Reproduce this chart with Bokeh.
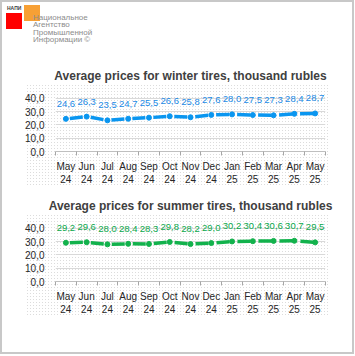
from bokeh.plotting import figure
from bokeh.layouts import column
from bokeh.models import (ColumnDataSource, LabelSet, Range1d, Div,
                          CustomJSTickFormatter, FixedTicker)
from bokeh.core.properties import value
from bokeh.embed import file_html
from bokeh.resources import INLINE

# ---- data ----
months = ["May", "Jun", "Jul", "Aug", "Sep", "Oct", "Nov", "Dec", "Jan", "Feb", "Mar", "Apr", "May"]
years = ["24", "24", "24", "24", "24", "24", "24", "24", "25", "25", "25", "25", "25"]
winter = [24.6, 26.3, 23.5, 24.7, 25.5, 26.6, 25.8, 27.6, 28.0, 27.5, 27.3, 28.4, 28.7]
summer = [29.2, 29.6, 28.0, 28.4, 28.3, 29.8, 28.2, 29.0, 30.2, 30.4, 30.6, 30.7, 29.5]
y_ticks = [0, 10, 20, 30, 40]
title_winter = "Average prices for winter tires, thousand rubles"
title_summer = "Average prices for summer tires, thousand rubles"
logo_short = "НАПИ"
logo_lines = ["Национальное", "Агентство", "Промышленной", "Информации ©"]

FONT = "Liberation Sans"
W = 350
N = len(months)
idx = list(range(N))
tick_labels = {i: f"{m}\n{y}" for i, m, y in zip(idx, months, years)}


def dotted_area(top, bottom, left=23, right=328):
    return {
        "background-color": "#ffffff",
        "background-image": (
            f"linear-gradient(to right, #fff {left}px, transparent {left}px, "
            f"transparent {right}px, #fff {right}px), "
            f"linear-gradient(to bottom, #fff {top}px, transparent {top}px, "
            f"transparent {bottom}px, #fff {bottom}px), "
            "radial-gradient(circle, #dcdcdc 0.6px, transparent 1.0px)"),
        "background-size": "100% 100%, 100% 100%, 3px 3px",
        "background-repeat": "no-repeat, no-repeat, repeat",
    }


def make_chart(title, values, line_color, label_color, height, top, bottom, bg, standoff):
    p = figure(width=W, height=height, output_backend="svg", toolbar_location=None,
               x_range=Range1d(-0.5, N - 0.5), y_range=Range1d(0, 47.5),
               min_border_left=53, min_border_right=27, min_border_top=top,
               min_border_bottom=bottom, styles=bg)
    p.title.text = title
    p.title.align = "center"
    p.title.text_font = FONT
    p.title.text_font_size = "12px"
    p.title.text_font_style = "bold"
    p.title.text_color = "#404040"
    p.title.standoff = standoff
    p.outline_line_color = None
    p.border_fill_color = None
    p.background_fill_color = None

    src = ColumnDataSource(dict(x=idx, y=values,
                                lab=[f"{v:.1f}".replace(".", ",") for v in values]))
    p.line("x", "y", source=src, line_color=line_color, line_width=3.5,
           line_dash="13 8", line_dash_offset=17)
    p.scatter("x", "y", source=src, size=5, fill_color=line_color, line_color=line_color)
    p.add_layout(LabelSet(x="x", y="y", text="lab", source=src, y_offset=15,
                          text_align="center", text_baseline="middle",
                          text_font=value(FONT), text_font_size="9.5px",
                          text_color=label_color))

    p.xgrid.visible = False
    p.ygrid.grid_line_color = "#d9d9d9"
    p.ygrid.ticker = FixedTicker(ticks=y_ticks)

    xa = p.xaxis[0]
    xa.ticker = FixedTicker(ticks=idx, minor_ticks=[i - 0.5 for i in idx] + [N - 0.5])
    xa.major_label_overrides = tick_labels
    xa.major_tick_out = 0
    xa.major_tick_in = 0
    xa.minor_tick_out = 4
    xa.minor_tick_in = 0
    xa.minor_tick_line_color = "#a6a6a6"
    xa.axis_line_color = "#bfbfbf"
    xa.major_label_standoff = 5
    xa.major_label_text_font = FONT
    xa.major_label_text_font_size = "10px"
    xa.major_label_text_color = "#262626"

    ya = p.yaxis[0]
    ya.ticker = FixedTicker(ticks=y_ticks)
    ya.formatter = CustomJSTickFormatter(code="return tick.toFixed(1).replace('.', ',');")
    ya.axis_line_color = None
    ya.major_tick_line_color = None
    ya.minor_tick_line_color = None
    ya.major_label_standoff = 5
    ya.major_label_text_font = FONT
    ya.major_label_text_font_size = "10px"
    ya.major_label_text_color = "#262626"
    return p


# ---- header with the agency logo ----
logo_html = (
    f'<div style="position:relative;width:{W}px;height:55px;font-family:\'{FONT}\';">'
    '<div style="position:absolute;left:4px;top:11px;width:16px;height:16px;background:#ff0000;"></div>'
    '<div style="position:absolute;left:22px;top:3px;width:16px;height:16px;background:#f7a035;"></div>'
    f'<div style="position:absolute;left:5px;top:4px;font-size:5px;line-height:5px;font-weight:bold;color:#404040;">{logo_short}</div>'
    '<div style="position:absolute;left:31px;top:11.5px;font-size:8px;line-height:7.5px;color:#8c8c8c;white-space:nowrap;">'
    + "<br>".join(logo_lines) + '</div></div>'
)
hdr = Div(text=logo_html, width=W, height=55, margin=0)

p1 = make_chart(title_winter, winter, "#0a96f0", "#1a8ae6", 133, 31, 39, dotted_area(28, 128), 12)
p2 = make_chart(title_summer, summer, "#12b24c", "#0aa84a", 162, 28, 71, dotted_area(25, 125), 11)

layout = column(hdr, p1, p2, spacing=0,
                styles={"border": "2px solid #c8c8c8", "background-color": "#ffffff"})

open("out.html", "w").write(file_html(layout, INLINE))
